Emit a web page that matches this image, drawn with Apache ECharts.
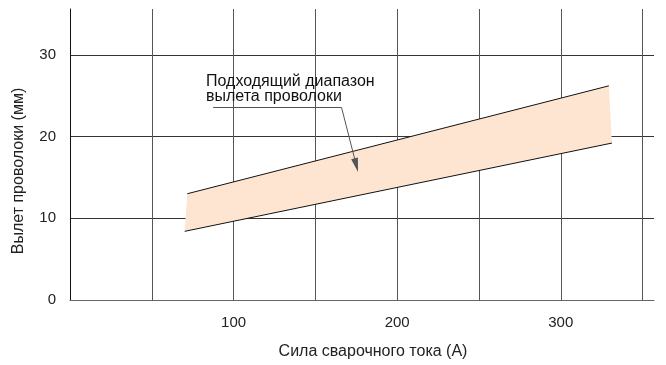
<!DOCTYPE html>
<html><head><meta charset="utf-8">
<script src="https://cdn.jsdelivr.net/npm/echarts@6/dist/echarts.min.js"></script>
<style>html,body{margin:0;padding:0;background:#fff}#c{width:666px;height:365px}</style>
</head><body><div id="c"></div>
<script>
// Band boundaries: [current A, stick-out mm]
var upperLine = [[71.7, 13.0], [329.4, 26.2]];
var lowerLine = [[70.1, 8.4], [331.3, 19.2]];
var xTickLabels = [100, 200, 300];
var yTickLabels = [0, 10, 20, 30];
var xName = 'Сила сварочного тока (А)';
var yName = 'Вылет проволоки (мм)';
var noteText = 'Подходящий диапазон\nвылета проволоки';
// leader line for annotation (data coords)
var leaderPts = [[87.5, 23.55], [166.0, 23.55], [175.0, 16.5]];

var polygonData = [upperLine[0], upperLine[1], lowerLine[1], lowerLine[0]];
var font = '"Liberation Sans", Arial, sans-serif';
var chart = echarts.init(document.getElementById('c'), null, {renderer: 'canvas'});
chart.setOption({
  animation: false,
  grid: {left: 70, right: 12, top: 9, bottom: 65},
  xAxis: {
    type: 'value', min: 0, max: 357, interval: 50,
    name: xName, nameLocation: 'middle', nameGap: 44,
    nameTextStyle: {fontFamily: font, fontSize: 16, color: '#222', padding: [0, 0, 0, 22]},
    axisLine: {show: true, lineStyle: {color: '#666', width: 1}},
    axisTick: {show: false},
    axisLabel: {
      fontFamily: font, fontSize: 15, color: '#222', margin: 15,
      showMaxLabel: false,
      formatter: function (v) { return xTickLabels.indexOf(v) >= 0 ? String(v) : ''; }
    },
    splitLine: {show: true, showMinLine: false, showMaxLine: false, lineStyle: {color: '#555', width: 1}}
  },
  yAxis: {
    type: 'value', min: 0, max: 35.6, interval: 10,
    name: yName, nameLocation: 'middle', nameGap: 43, nameRotate: 90,
    nameTextStyle: {fontFamily: font, fontSize: 16, color: '#222', padding: [0, 33, 0, 0]},
    axisLine: {show: true, lineStyle: {color: '#111', width: 1}},
    axisTick: {show: false},
    axisLabel: {
      fontFamily: font, fontSize: 15, color: '#222', margin: 14, showMaxLabel: false,
      formatter: function (v) { return yTickLabels.indexOf(v) >= 0 ? String(v) : ''; }
    },
    splitLine: {show: true, showMinLine: false, showMaxLine: false, lineStyle: {color: '#333', width: 1}}
  },
  series: [
    {
      type: 'custom', silent: true, z: 1,
      data: [0],
      renderItem: function (params, api) {
        var pts = polygonData.map(function (p) { return api.coord(p); });
        return {type: 'polygon', shape: {points: pts}, style: {fill: '#fde5d2', stroke: null}};
      }
    },
    {
      type: 'line', data: upperLine, symbol: 'none', z: 3,
      lineStyle: {color: '#111', width: 1}
    },
    {
      type: 'line', data: lowerLine, symbol: 'none', z: 3,
      lineStyle: {color: '#111', width: 1},
      markLine: {
        silent: true, animation: false,
        symbol: ['none', 'none'],
        label: {show: false},
        lineStyle: {color: '#555', width: 1, type: 'solid'},
        emphasis: {disabled: true},
        data: [
          [{coord: leaderPts[0], symbol: 'none'}, {coord: leaderPts[1], symbol: 'none'}],
          [{coord: leaderPts[1], symbol: 'none'}, {coord: leaderPts[2], symbol: 'triangle', symbolSize: [7, 14], itemStyle: {color: '#111'}}]
        ]
      }
    }
  ],
  graphic: [{
    type: 'text', left: 206, top: 74, z: 10,
    style: {text: noteText, fontFamily: font, fontSize: 16, lineHeight: 15, fill: '#111'}
  }]
});
</script></body></html>
